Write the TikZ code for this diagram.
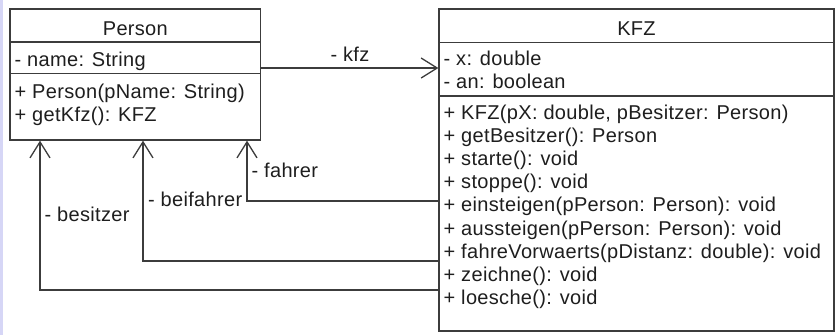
\documentclass[tikz,border=0pt]{standalone}
\usepackage{fontspec}
\setmainfont[LetterSpace=1.6]{Liberation Sans}
\usetikzlibrary{arrows.meta}
\definecolor{linec}{HTML}{3C3C3C}
\definecolor{txtc}{HTML}{1E1E1E}
\definecolor{stripc}{HTML}{D6D6F6}
\begin{document}
\begin{tikzpicture}[x=1pt,y=-1pt,
  box/.style={draw=linec, line width=1.3pt, inner sep=0pt, fill=white},
  sepline/.style={draw=linec, line width=1.3pt},
  txt/.style={anchor=base west, inner sep=0pt, text=txtc, font=\fontsize{20}{24}\selectfont},
  ttl/.style={anchor=base, inner sep=0pt, text=txtc, font=\fontsize{20}{24}\selectfont},
  assoc/.style={draw=linec, line width=1.3pt, -{Straight Barb[length=16pt,width=20pt]}},
  ]
\useasboundingbox (0,0) rectangle (836,335);
\fill[stripc] (0,0) rectangle (3,335);

% Person class
\node[box, minimum width=250.7pt, minimum height=131pt] (person) at (135.35,74.5) {};
\draw[sepline] (person.north west) ++(0,33.7) -- ++(250.7,0);
\draw[sepline] (person.north west) ++(0,65) -- ++(250.7,0);
\node[ttl] (ptitle) at (135.35,35) {Person};
\node[txt] (pa1) at (14.5,66.5) {- name: String};
\node[txt] (pm1) at (14.5,98.3) {+ Person(pName: String)};
\node[txt] (pm2) at (14.5,121.5) {+ getKfz(): KFZ};

% KFZ class
\node[box, minimum width=395pt, minimum height=322pt] (kfz) at (636.5,170) {};
\draw[sepline] (kfz.north west) ++(0,34) -- ++(395,0);
\draw[sepline] (kfz.north west) ++(0,87.5) -- ++(395,0);
\node[ttl] (ktitle) at (636.5,35) {KFZ};
\node[txt] (ka1) at (443.5,65) {- x: double};
\node[txt] (ka2) at (443.5,88.3) {- an: boolean};
\node[txt] (km1) at (443.5,119) {+ KFZ(pX: double, pBesitzer: Person)};
\node[txt] (km2) at (443.5,142.2) {+ getBesitzer(): Person};
\node[txt] (km3) at (443.5,165.4) {+ starte(): void};
\node[txt] (km4) at (443.5,188.6) {+ stoppe(): void};
\node[txt] (km5) at (443.5,211.8) {+ einsteigen(pPerson: Person): void};
\node[txt] (km6) at (443.5,235) {+ aussteigen(pPerson: Person): void};
\node[txt] (km7) at (443.5,258.2) {+ fahreVorwaerts(pDistanz: double): void};
\node[txt] (km8) at (443.5,281.4) {+ zeichne(): void};
\node[txt] (km9) at (443.5,304.6) {+ loesche(): void};

% associations
\draw[assoc] (person.east |- 0,68) -- (kfz.west |- 0,68);
\draw[assoc] (kfz.west |- 0,201) -| (person.south -| 247,0);
\draw[assoc] (kfz.west |- 0,261) -| (person.south -| 143,0);
\draw[assoc] (kfz.west |- 0,290) -| (person.south -| 40,0);

% role labels
\node[ttl] (lkfz) at (350,61) {- kfz};
\node[txt] (lfahrer) at (251.5,177) {- fahrer};
\node[txt] (lbeif) at (148,206.5) {- beifahrer};
\node[txt] (lbes) at (44.5,221.5) {- besitzer};
\end{tikzpicture}
\end{document}
